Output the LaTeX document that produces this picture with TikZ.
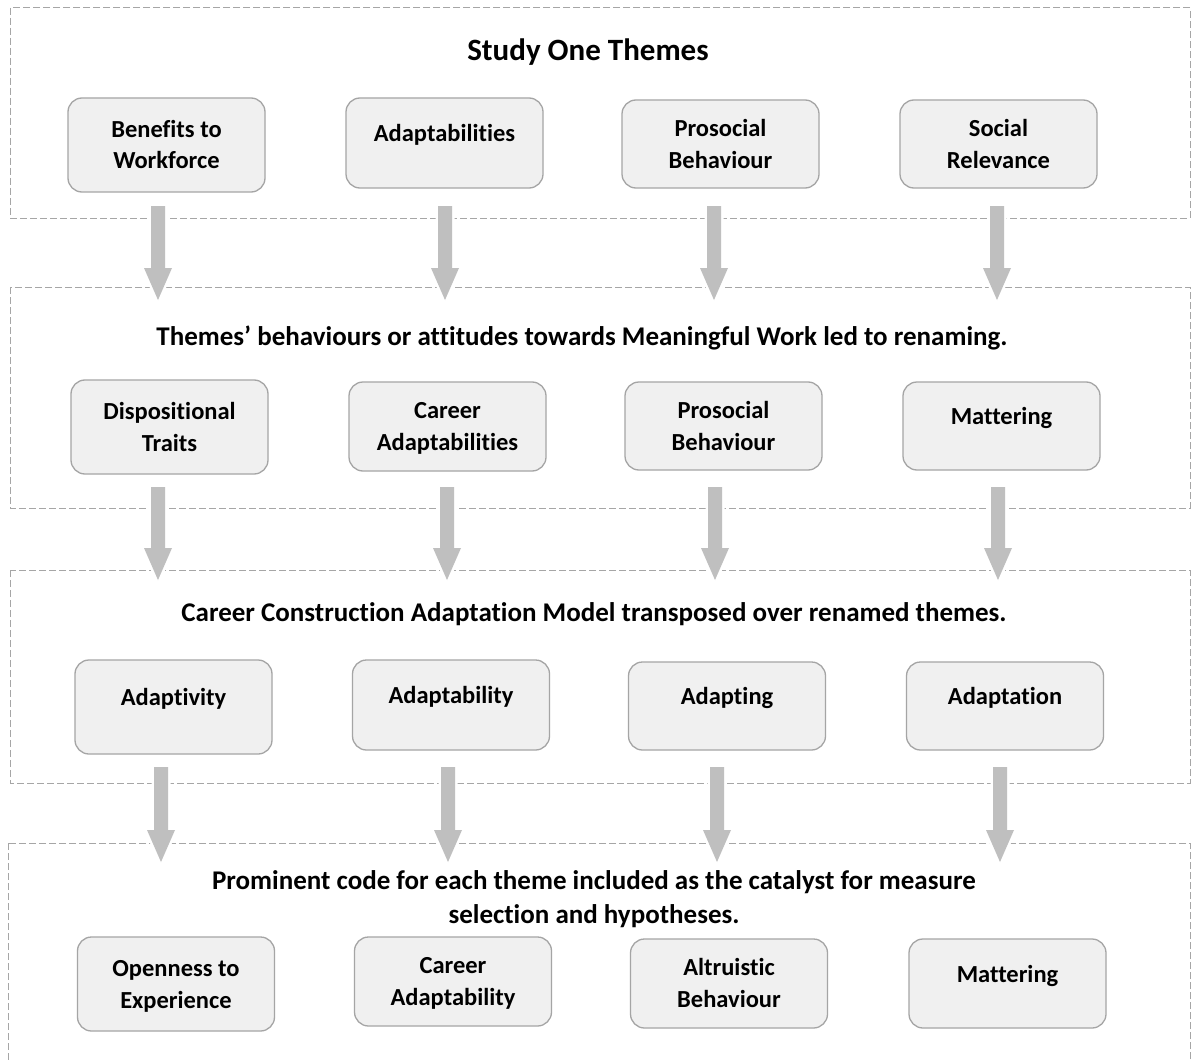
\documentclass[tikz,border=0pt]{standalone}
\usepackage{fontspec}
\setmainfont{Carlito}[Ligatures=NoCommon]
\usetikzlibrary{calc}
\definecolor{boxfill}{HTML}{F0F0F0}
\definecolor{boxline}{HTML}{A5A5A5}
\definecolor{framegray}{HTML}{A6A6A6}
\definecolor{arrowgray}{HTML}{BFBFBF}
\tikzset{
 themebox/.style={draw=boxline, fill=boxfill, line width=1.3pt, rounded corners=14pt, minimum width=197pt, align=center, font=\fontsize{24.5}{32}\selectfont\bfseries, inner sep=0pt},
 oneline/.style={text height=17pt, text depth=20pt},
 twoline/.style={text height=54pt, text depth=6pt},
 frame/.style={draw=framegray, dash pattern=on 7pt off 3pt, line width=1pt},
 rowtitle/.style={font=\fontsize{27}{34}\selectfont\bfseries, align=center, inner sep=0pt},
 blockarrow/.style={fill=arrowgray, preaction={draw=white, line width=5pt}}
}
\newcommand\blockarrow[2]{\path[blockarrow] let \p1=(#1), \p2=(#2) in (\x1-7pt,\y1) -- (\x1+7pt,\y1) -- (\x1+7pt,\y2+32pt) -- (\x1+14pt,\y2+32pt) -- (\x2,\y2) -- (\x1-14pt,\y2+32pt) -- (\x1-7pt,\y2+32pt) -- cycle;}
\begin{document}
\begin{tikzpicture}[x=1pt,y=-1pt]
\useasboundingbox (0,0) rectangle (1192,1062);
\clip (0,0) rectangle (1192,1062);
\fill[white] (0,0) rectangle (1192,1062);
% frames
\draw[frame] (10,8) rectangle (1190,218);
\draw[frame] (10,287) rectangle (1190,508);
\draw[frame] (10,570) rectangle (1190,783);
\draw[frame] (8,843) rectangle (1190,1090);
% titles
\node[font=\fontsize{31}{36}\selectfont\bfseries, inner sep=0pt] (t1) at (588,52) {Study One Themes};
\node[rowtitle] (t2) at (582,338) {Themes’ behaviours or attitudes towards Meaningful Work led to renaming.};
\node[rowtitle] (t3) at (594,614) {Career Construction Adaptation Model transposed over renamed themes.};
\node[rowtitle] (t4) at (594,899) {Prominent code for each theme included as the catalyst for measure\\selection and hypotheses.};
% arrows
\foreach \i/\x in {1/158,2/445,3/714,4/997}{
  \coordinate (s1\i) at (\x,206); \coordinate (e1\i) at (\x,300);
  \blockarrow{s1\i}{e1\i}}
\foreach \i/\x in {1/158,2/447,3/715,4/998}{
  \coordinate (s2\i) at (\x,487); \coordinate (e2\i) at (\x,580);
  \blockarrow{s2\i}{e2\i}}
\foreach \i/\x in {1/161,2/448,3/717,4/1000}{
  \coordinate (s3\i) at (\x,767); \coordinate (e3\i) at (\x,862);
  \blockarrow{s3\i}{e3\i}}
% row 1
\node[themebox, twoline, minimum height=94pt] (b11) at (166.5,145) {Benefits to\\Workforce};
\node[themebox, oneline, minimum height=90pt] (b12) at (444.5,143) {Adaptabilities};
\node[themebox, twoline, minimum height=88pt] (b13) at (720.5,144) {Prosocial\\Behaviour};
\node[themebox, twoline, minimum height=88pt] (b14) at (998.5,144) {Social\\Relevance};
% row 2
\node[themebox, twoline, minimum height=94pt] (b21) at (169.5,427) {Dispositional\\Traits};
\node[themebox, twoline, minimum height=89pt] (b22) at (447.5,426.5) {Career\\Adaptabilities};
\node[themebox, twoline, minimum height=88pt] (b23) at (723.5,426) {Prosocial\\Behaviour};
\node[themebox, oneline, minimum height=88pt] (b24) at (1001.5,426) {Mattering};
% row 3
\node[themebox, oneline, minimum height=94pt] (b31) at (173.5,707) {Adaptivity};
\node[themebox, oneline, minimum height=90pt] (b32) at (451,705) {Adaptability};
\node[themebox, oneline, minimum height=88pt] (b33) at (727,706) {Adapting};
\node[themebox, oneline, minimum height=88pt] (b34) at (1005,706) {Adaptation};
% row 4
\node[themebox, twoline, minimum height=94pt] (b41) at (176,984) {Openness to\\Experience};
\node[themebox, twoline, minimum height=89pt] (b42) at (453,981.5) {Career\\Adaptability};
\node[themebox, twoline, minimum height=89pt] (b43) at (729,983.5) {Altruistic\\Behaviour};
\node[themebox, oneline, minimum height=89pt] (b44) at (1007.5,983.5) {Mattering};
\end{tikzpicture}
\end{document}
